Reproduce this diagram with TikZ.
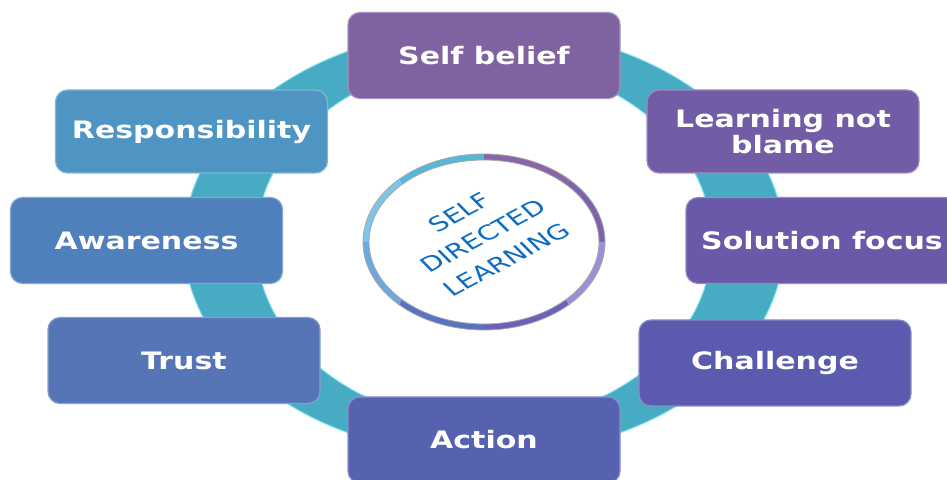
\documentclass[tikz,border=0pt]{standalone}
\usepackage{fontspec}
\newfontfamily\boxfont[FakeStretch=1.25]{DejaVu Sans}
\newfontfamily\titlefont[FakeStretch=1.2]{DejaVu Sans}
\definecolor{ringcol}{HTML}{48ABC4}
\definecolor{ringhl}{HTML}{7FE0F5}
\definecolor{titleblue}{HTML}{0A6CC4}
\definecolor{cself}{HTML}{7F62A0}
\definecolor{clearn}{HTML}{735CA6}
\definecolor{csol}{HTML}{6959A8}
\definecolor{cchal}{HTML}{5A5BAE}
\definecolor{cact}{HTML}{5662B0}
\definecolor{ctrust}{HTML}{5575B7}
\definecolor{caware}{HTML}{4F80BC}
\definecolor{cresp}{HTML}{4E95C3}
\definecolor{tra}{HTML}{7F62AE}
\definecolor{trb}{HTML}{8A64A8}
\definecolor{trc}{HTML}{55B8D8}
\definecolor{trd}{HTML}{7EC6E8}
\definecolor{tre}{HTML}{6FA8DC}
\definecolor{trf}{HTML}{5A72C2}
\definecolor{trg}{HTML}{6A62BA}
\definecolor{trh}{HTML}{9A90D8}

\begin{document}
\begin{tikzpicture}[x=1pt,y=1pt,
  box/.style={fill=#1, draw=#1!70!white, line width=1.2pt, rounded corners=12pt,
    minimum width=272pt, minimum height=86pt, text=white, align=center,
    font=\boxfont\bfseries\fontsize{24}{26}\selectfont}]
  \useasboundingbox (0,0) rectangle (947,479);
  \coordinate (c) at (484,237);
  \fill[ringcol, even odd rule] (c) ellipse [x radius=300pt, y radius=214pt]
    (c) ellipse [x radius=228pt, y radius=181pt];
  \draw[ringhl, line width=1pt] (c) ellipse [x radius=300pt, y radius=214pt]
    (c) ellipse [x radius=228pt, y radius=181pt];
  \fill[white] (c) ellipse [x radius=121pt, y radius=88pt];
  \foreach \a/\col in {0/tra,45/trb,90/trc,135/trd,180/tre,225/trf,270/trg,315/trh}
    \draw[line width=6pt, \col] ([shift={(\a:118pt and 85pt)}]c)
      arc[start angle=\a, delta angle=45, x radius=118pt, y radius=85pt];
  \draw[gray!70, line width=0.8pt] (c) ellipse [x radius=121pt, y radius=88pt]
    (c) ellipse [x radius=115pt, y radius=82pt];
  \begin{scope}[shift={(483,243)}, rotate=28, xslant=-0.3]
    \node[transform shape, text=titleblue, align=center,
      font=\titlefont\fontsize{22}{32}\selectfont] (title) at (0,0) {SELF\\DIRECTED\\LEARNING};
  \end{scope}
  \node[box=cself] (self) at (484,423.5) {Self belief};
  \node[box=clearn, minimum height=83pt] (learn) at (783,347.5) {Learning not\\blame};
  \node[box=csol] (sol) at (822,238.5) {Solution focus};
  \node[box=cchal] (chal) at (775,116) {Challenge};
  \node[box=cact] (act) at (484,39) {Action};
  \node[box=ctrust] (trust) at (184,118.5) {Trust};
  \node[box=caware] (aware) at (146.5,238.5) {Awareness};
  \node[box=cresp, minimum height=83pt] (resp) at (191.5,347.5) {Responsibility};
\end{tikzpicture}
\end{document}
